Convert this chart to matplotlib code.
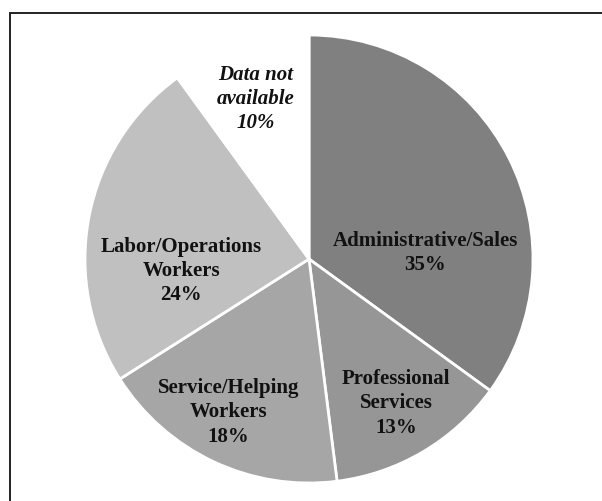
import matplotlib.pyplot as plt
from matplotlib.patches import Rectangle

# occupation shares, clockwise from the top
categories = ['Administrative/Sales', 'Professional\nServices', 'Service/Helping\nWorkers',
              'Labor/Operations\nWorkers', 'Data not\navailable']
shares = [35, 13, 18, 24, 10]
colors = ['#808080', '#969696', '#a6a6a6', '#c0c0c0', '#ffffff']

# label placement inside the pie (pie units, radius = 1)
label_pos = [(0.52, 0.03), (0.39, -0.64), (-0.36, -0.68), (-0.57, -0.05), (-0.24, 0.72)]

plt.rcParams['font.family'] = ['Liberation Serif', 'DejaVu Serif']

fig = plt.figure(figsize=(6.02, 5.02), dpi=100)
ax = fig.add_axes([85 / 602, 18 / 502, 448 / 602, 448 / 502])

ax.pie(shares, colors=colors, startangle=90, counterclock=False,
       wedgeprops=dict(edgecolor='white', linewidth=2))
ax.set_xlim(-1, 1)
ax.set_ylim(-1, 1)
ax.set_aspect('equal')

for name, val, (x, y) in zip(categories, shares, label_pos):
    style = 'italic' if name.startswith('Data') else 'normal'
    ax.text(x, y, f'{name}\n{val}%', ha='center', va='center', fontsize=15,
            fontweight='bold', fontstyle=style, linespacing=1.28, color='#111111')

# frame around the chart (runs off the right and bottom edges)
fig.patches.append(Rectangle((10 / 602, -0.1), 1.1, 0.1 + 488.5 / 502,
                             transform=fig.transFigure, fill=False,
                             edgecolor='#222222', linewidth=1.4))

fig.savefig('out.png', dpi=100)
